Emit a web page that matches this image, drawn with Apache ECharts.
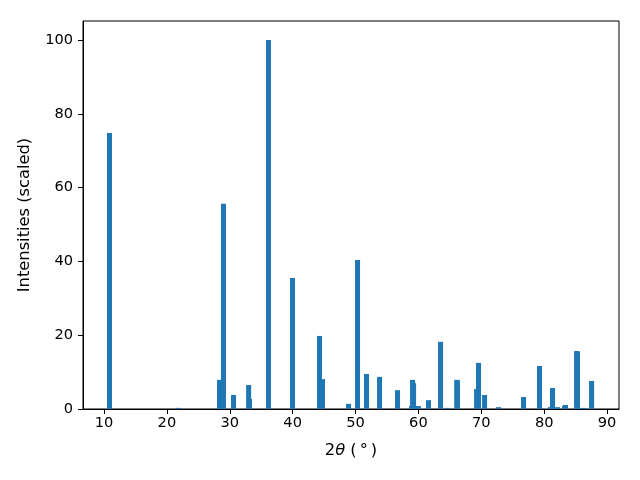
<!DOCTYPE html>
<html>
<head>
<meta charset="utf-8">
<script src="https://cdn.jsdelivr.net/npm/echarts@6/dist/echarts.min.js"></script>
<style>html,body{margin:0;padding:0;background:#fff}#c{width:640px;height:480px}</style>
</head>
<body>
<div id="c"></div>
<script>
const positions = [10.87, 21.85, 28.37, 29.0, 30.6, 33.0, 33.14, 36.16, 39.98, 44.27, 44.75, 48.89, 50.32, 51.75, 53.82, 56.68, 58.9, 59.07, 59.23, 60.0, 61.6, 63.52, 64.63, 66.1, 66.2, 69.25, 69.56, 70.52, 72.75, 76.72, 79.26, 81.0, 81.33, 82.13, 83.24, 83.4, 85.15, 85.3, 86.26, 87.54];
const intensities = [74.8, 0.3, 7.9, 55.6, 3.8, 6.5, 2.7, 100, 35.5, 19.8, 8.1, 1.4, 40.4, 9.5, 8.7, 5.1, 0.8, 7.9, 7.0, 0.8, 2.4, 18.2, 0.3, 7.9, 7.8, 5.4, 12.5, 3.8, 0.5, 3.25, 11.65, 0.5, 5.7, 0.5, 0.8, 1.1, 15.7, 15.6, 0.3, 7.6];
const xTicks = [10, 20, 30, 40, 50, 60, 70, 80, 90];
const yTicks = [0, 20, 40, 60, 80, 100];
const barWidth = 0.8;

const data = positions.map((p, i) => [p, intensities[i]]);
const font = 'DejaVu Sans';
const tickFont = 14.6;
const nameFont = 16.3;
const chart = echarts.init(document.getElementById('c'), null, {renderer: 'canvas'});
chart.setOption({
  animation: false,
  backgroundColor: '#fff',
  grid: {left: 83, right: 21, top: 21, bottom: 71, show: true, borderColor: '#000', borderWidth: 1, backgroundColor: 'transparent'},
  xAxis: {
    type: 'value', min: 6.66, max: 91.9,
    splitLine: {show: false},
    axisLine: {show: true, onZero: false, lineStyle: {color: '#000', width: 1}},
    axisTick: {show: true, length: 5, lineStyle: {color: '#000'}, customValues: xTicks},
    axisLabel: {color: '#000', fontFamily: font, fontSize: tickFont, margin: 7, customValues: xTicks},
    name: '{n|2}{i|θ}{n| (}{s|°}{n|)}',
    nameLocation: 'middle', nameGap: 34,
    nameTextStyle: {rich: {
      n: {fontFamily: font, fontSize: nameFont, color: '#000'},
      i: {fontFamily: font, fontSize: nameFont, fontStyle: 'italic', color: '#000'},
      s: {fontFamily: font, fontSize: nameFont, color: '#000', padding: [0, 3, 0, 3]}
    }}
  },
  yAxis: {
    type: 'value', min: 0, max: 105.15,
    splitLine: {show: false},
    axisLine: {show: true, lineStyle: {color: '#000', width: 1}},
    axisTick: {show: true, length: 5, lineStyle: {color: '#000'}, customValues: yTicks},
    axisLabel: {color: '#000', fontFamily: font, fontSize: tickFont, margin: 10, customValues: yTicks},
    name: 'Intensities (scaled)',
    nameLocation: 'middle', nameGap: 50,
    nameTextStyle: {fontFamily: font, fontSize: nameFont, color: '#000'}
  },
  series: [{
    type: 'custom',
    clip: true,
    data: data,
    renderItem: function (params, api) {
      const x = api.value(0), y = api.value(1);
      const p0 = api.coord([x - barWidth / 2, y]);
      const p1 = api.coord([x + barWidth / 2, 0]);
      return {
        type: 'rect',
        shape: {x: p0[0], y: p0[1], width: p1[0] - p0[0], height: p1[1] - p0[1]},
        style: {fill: '#1f77b4'}
      };
    }
  }]
});
</script>
</body>
</html>
